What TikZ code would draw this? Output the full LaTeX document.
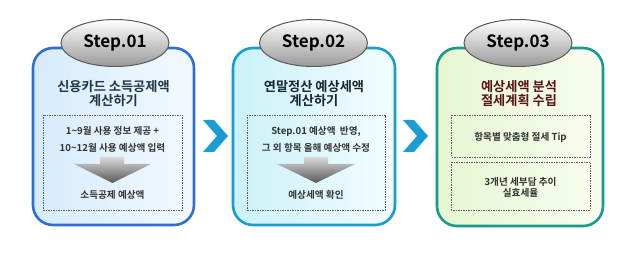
\documentclass[tikz,border=0pt]{standalone}
\usepackage{fontspec}
\setmainfont{Noto Sans CJK KR}
\newfontfamily\krb{Noto Sans CJK KR Bold}
\usetikzlibrary{shapes.geometric,positioning}
\definecolor{bOne}{HTML}{2F6FD2}
\definecolor{fOneA}{HTML}{D6EBFB}
\definecolor{fOneB}{HTML}{F2F9FF}
\definecolor{bTwo}{HTML}{169FCB}
\definecolor{fTwoA}{HTML}{CBF1F8}
\definecolor{fTwoB}{HTML}{F2FDFF}
\definecolor{bThree}{HTML}{1A9A8A}
\definecolor{fThreeA}{HTML}{E6F6D2}
\definecolor{fThreeB}{HTML}{F8FDF0}
\definecolor{chevC}{HTML}{1A9ED2}
\definecolor{tOne}{HTML}{1E3848}
\definecolor{tTwo}{HTML}{1A2532}
\definecolor{tThree}{HTML}{5A1414}
\definecolor{bodyC}{HTML}{333333}
\tikzset{
  panel/.style={rounded corners=20pt, line width=2.6pt},
  dbox/.style={draw=gray!75!black, dashed, dash pattern=on 1.5pt off 1pt, line width=0.6pt},
  stepell/.style={ellipse, draw=black!65, line width=1pt, minimum width=108pt, minimum height=47pt, inner sep=0pt,
     top color=white, bottom color=black!40, font=\krb\fontsize{17}{19}\selectfont, text=black},
  titletxt/.style={align=center, font=\krb\fontsize{13.2}{14}\selectfont},
  bodytxt/.style={align=center, text=bodyC, font=\krb\fontsize{9.6}{17}\selectfont},
  chev/.style={fill=chevC, draw=none},
  downarrow/.style={top color=black!15, bottom color=black!65, draw=none}
}
\begin{document}
\begin{tikzpicture}[x=1pt,y=-1pt]
\useasboundingbox (0,0) rectangle (624,256);
% panels
\path[panel, draw=bOne, left color=fOneA, right color=fOneB] (33,48) rectangle (194,225);
\path[panel, draw=bTwo, left color=fTwoA, right color=fTwoB] (233,48) rectangle (395,225);
\path[panel, draw=bThree, left color=fThreeA, right color=fThreeB] (437,48) rectangle (603,226);
% step ellipses
\node[stepell] (s1) at (115,43) {Step.01};
\node[stepell] (s2) at (313.5,43) {Step.02};
\node[stepell] (s3) at (518,43) {Step.03};
% titles
\node[titletxt, text=tOne] (t1) at (113.5,93.5) {신용카드 소득공제액\\계산하기};
\node[titletxt, text=tTwo] (t2) at (314,93.5) {연말정산 예상세액\\계산하기};
\node[titletxt, text=tThree] (t3) at (519,93.5) {예상세액 분석\\절세계획 수립};
% dashed boxes
\draw[dbox] (43,115) rectangle (182,210);
\draw[dbox] (247,115) rectangle (385,210);
\draw[dbox] (451,115) rectangle (590,157);
\draw[dbox] (451,162) rectangle (590,210);
% body texts
\node[bodytxt] (b1) at (112.5,139.5) {1\textasciitilde9월 사용 정보 제공 +\\10\textasciitilde12월 사용 예상액 입력};
\node[bodytxt] (r1) at (112.5,195) {소득공제 예상액};
\node[bodytxt] (b2) at (316,139.5) {Step.01 예상액\ \ 반영,\\그 외 항목 올해 예상액 수정};
\node[bodytxt] (r2) at (316,195) {예상세액 확인};
\node[bodytxt] (b3) at (520.5,137) {항목별 맞춤형 절세 Tip};
\node[bodytxt, font=\krb\fontsize{9.6}{11}\selectfont] (b4) at (520.5,187) {3개년 세부담 추이\\실효세율};
% gray down arrows
\path[downarrow] (100,157) -- (124,157) -- (124,164) -- (151,164) -- (112.5,183) -- (74,164) -- (100,164) -- cycle;
\path[downarrow] (304,157) -- (328,157) -- (328,164) -- (355,164) -- (316,183) -- (277,164) -- (304,164) -- cycle;
% chevrons
\path[chev] (203,120) -- (214,120) -- (228,136) -- (214,152) -- (203,152) -- (217,136) -- cycle;
\path[chev] (403,120) -- (414,120) -- (428,136) -- (414,152) -- (403,152) -- (417,136) -- cycle;
\end{tikzpicture}
\end{document}
